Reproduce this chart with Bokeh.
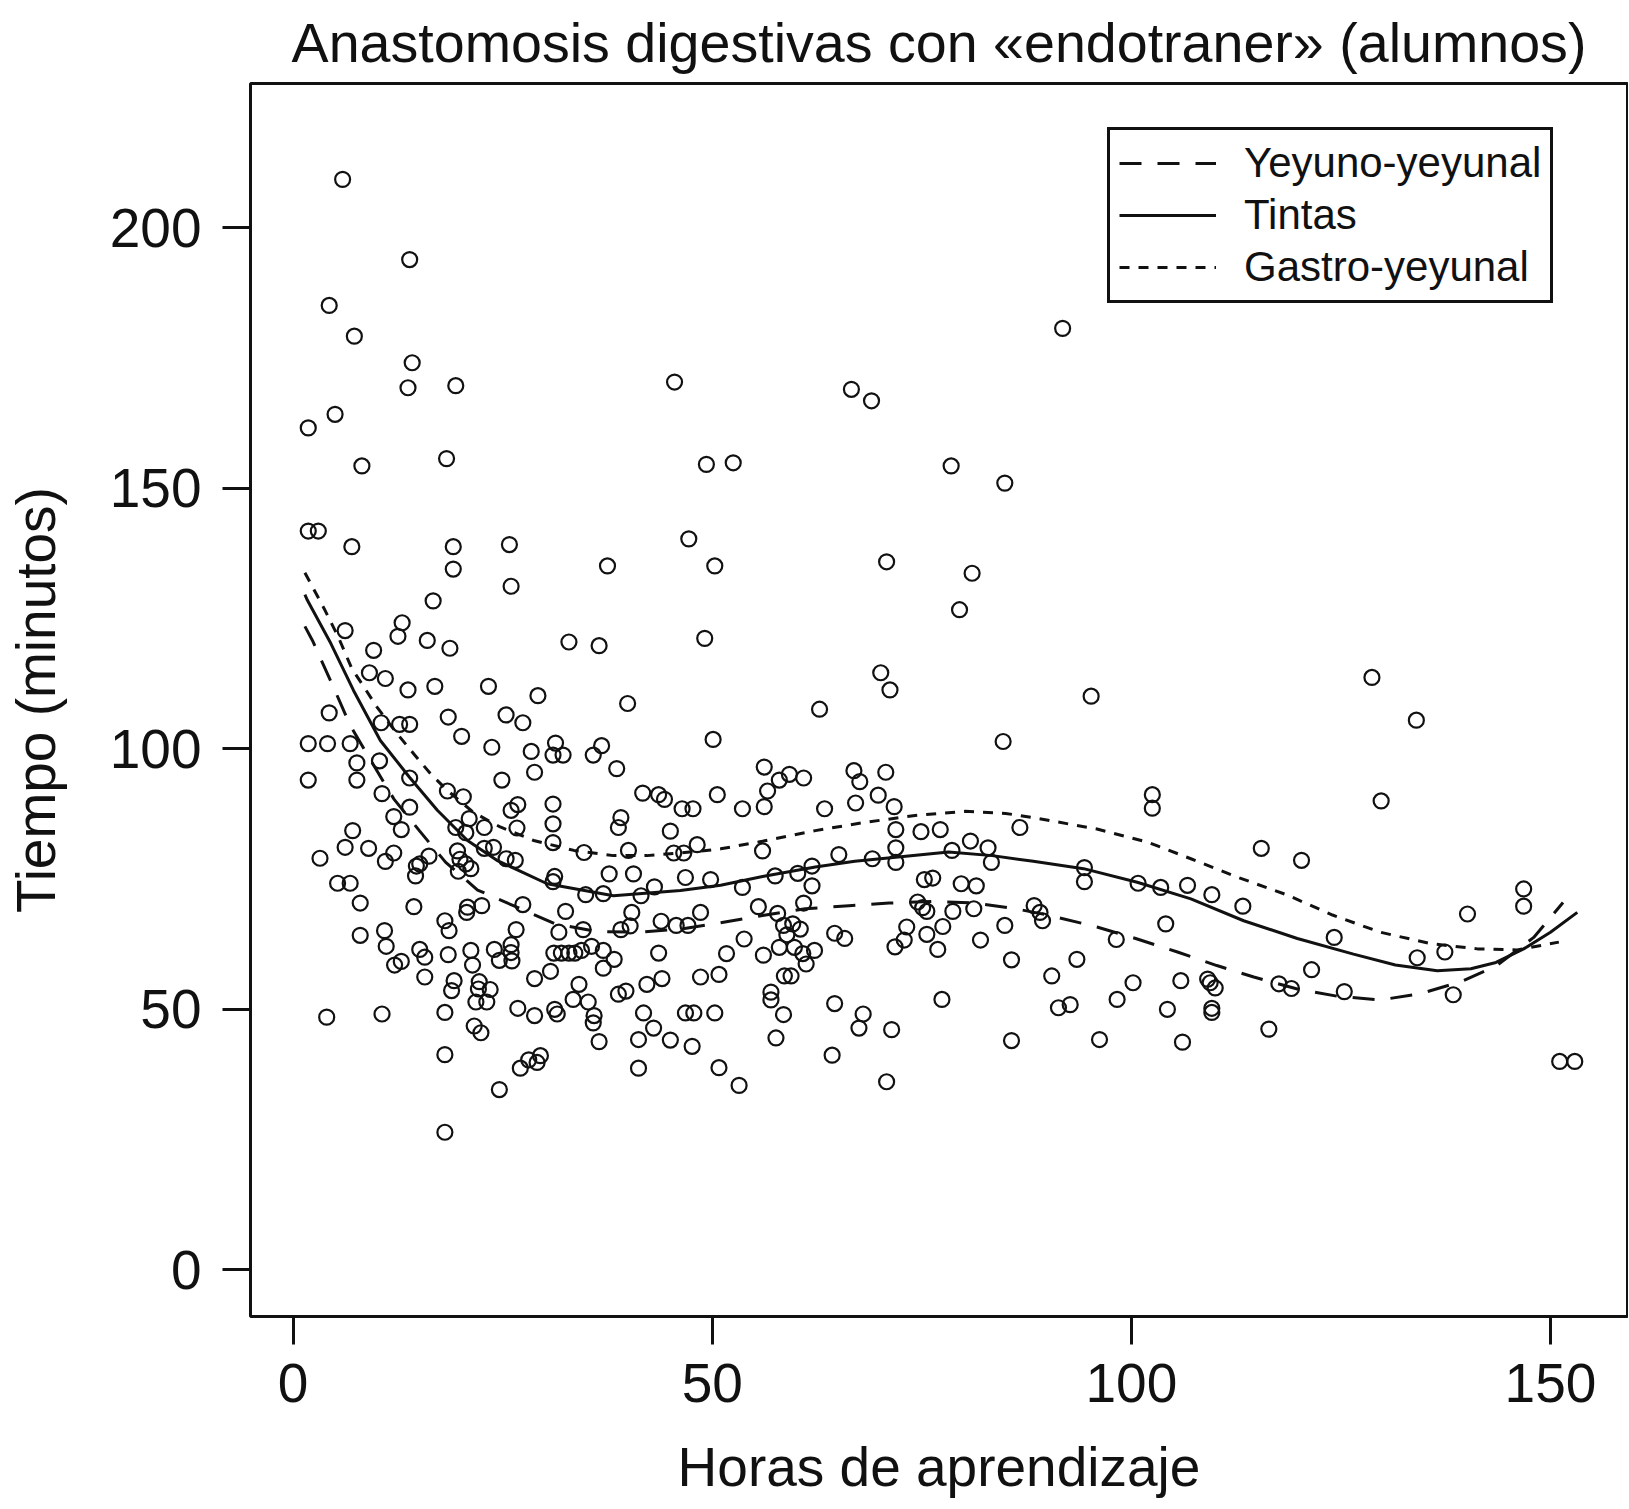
from bokeh.plotting import figure
from bokeh.models import FixedTicker, Legend, LegendItem, Range1d
from bokeh.embed import file_html
from bokeh.resources import INLINE

# ---------------- data ----------------
horas = [
    5.9, 13.9, 4.3, 7.3, 14.2, 13.7, 19.4, 45.5, 5.0, 1.8, 8.2, 18.3, 49.3, 1.8, 3.0, 7.0,
    19.1, 25.8, 47.2, 19.1, 37.5, 50.3, 26.0, 16.7,
    6.2, 13.0, 12.5, 16.0, 18.7, 32.9, 36.5, 49.1, 9.6, 9.1, 11.0, 13.7, 16.9, 23.3, 29.2, 39.9,
    4.3, 10.5, 12.7, 13.9, 18.5, 25.4, 27.4, 20.1, 1.8, 4.1, 6.8, 23.7, 31.3, 31.0, 32.2, 36.8,
    35.8, 50.1, 28.4, 7.6, 10.3, 1.8, 7.6, 13.9, 24.9, 28.8, 38.6, 10.6, 18.4, 20.3, 13.9, 26.8,
    26.0, 31.0, 41.7, 43.6, 44.3, 50.6, 12.0, 21.0, 31.0, 39.1, 38.8, 46.4, 47.7, 7.1, 12.9, 19.4,
    20.6, 22.8, 26.7, 45.0, 31.0, 48.2, 3.2, 6.2, 9.0, 12.0, 11.0, 16.2, 14.7, 15.1, 14.6, 19.6,
    19.9, 20.6, 21.2, 19.7, 22.8, 23.9, 25.4, 26.5, 34.7, 40.0, 45.4, 46.6, 31.2, 31.0, 37.7, 40.6,
    43.1, 46.8, 49.8, 5.3, 6.8,
    8.0, 14.4, 20.7, 20.8, 22.5, 27.4, 32.5, 34.9, 37.0, 41.5, 40.4, 8.0, 10.9, 11.1, 18.1, 18.6,
    26.6, 31.7, 34.6, 39.1, 40.2, 43.9, 45.7, 47.1, 48.6, 12.1, 12.9, 15.1, 15.7, 15.7, 18.5, 21.2,
    21.4, 24.0, 24.6, 26.0, 26.0, 26.1, 19.2, 18.9, 22.2, 22.1, 23.5, 21.8, 23.1, 28.8, 30.7, 31.1,
    32.0, 32.9, 33.6, 34.4, 35.6, 37.0, 38.3, 37.0, 43.6, 44.0, 42.2, 38.8, 39.7, 34.1, 33.4, 35.2,
    35.9, 35.8, 36.5, 48.6, 50.8, 4.0, 10.6, 18.1, 26.8, 28.8, 31.2, 31.5, 21.6, 22.4, 18.1, 41.8,
    43.0, 41.2, 45.0, 46.8, 47.8, 50.3, 47.6, 41.2, 50.8, 27.1, 28.1, 29.1, 29.5, 24.6, 18.1,
    62.8, 84.7, 56.2, 58.0, 59.2, 60.9, 56.6, 56.2, 53.6, 63.4, 66.9, 67.6, 70.7, 67.1, 69.8, 71.7,
    71.9, 74.9, 77.2, 86.7, 56.0, 65.1, 69.1, 71.9, 71.9, 78.6, 80.8, 82.9, 83.3, 53.6, 57.5, 60.2,
    61.9, 61.9, 75.3, 76.3, 79.7, 81.5, 55.5, 57.8, 60.9, 58.5, 59.6, 60.5, 58.9, 53.8, 51.7, 56.1,
    58.0, 59.8, 60.8, 62.2, 61.2, 58.6, 59.4, 57.0, 57.0, 58.5, 57.6, 64.6, 68.0, 67.5, 71.4, 64.3,
    53.2, 70.8, 64.6, 65.8, 73.2, 72.9, 71.8, 74.5, 75.1, 75.6, 78.7, 81.2, 77.5, 75.6, 76.9, 82.0,
    84.9, 85.7, 77.4, 85.7, 88.4,
    95.2, 102.5, 102.5, 115.5, 120.3, 94.4, 94.4, 100.8, 103.5, 106.7, 109.6, 113.3, 124.2, 89.1,
    89.4, 104.1, 98.2, 93.5, 90.5, 100.2, 105.9, 109.1, 109.4, 110.0, 117.6, 119.1, 121.5, 125.4,
    91.3, 92.7, 98.3, 104.3, 109.6, 109.6, 96.2, 106.1, 116.4,
    128.7, 134.0, 129.8, 146.8, 146.8, 140.1, 134.1, 137.4, 138.4, 151.1, 152.9,
    91.8, 66.6, 69.0, 52.5, 78.5, 84.9, 70.8, 81.0, 79.5, 70.1, 71.2,
]
tiempo = [
    209.3, 193.9, 185.1, 179.2, 174.1, 169.3, 169.7, 170.4, 164.2, 161.6, 154.3, 155.7, 154.6, 141.8, 141.8, 138.8,
    138.8, 139.2, 140.3, 134.5, 135.1, 135.1, 131.2, 128.4,
    122.7, 124.2, 121.6, 120.8, 119.3, 120.5, 119.8, 121.2, 118.9, 114.6, 113.5, 111.3, 112.0, 112.0, 110.2, 108.7,
    106.9, 105.0, 104.7, 104.7, 106.1, 106.5, 105.0, 102.4, 101.0, 101.0, 101.0, 100.3, 101.1, 98.8, 98.8, 100.6,
    98.8, 101.8, 99.5, 97.3, 97.7, 94.0, 94.0, 94.4, 94.0, 95.5, 96.2, 91.4, 91.9, 90.8, 88.8, 89.3,
    88.2, 89.4, 91.5, 91.2, 90.3, 91.2, 87.0, 86.6, 85.6, 86.8, 84.9, 88.5, 88.5, 84.3, 84.5, 84.9,
    83.9, 84.9, 84.8, 84.2, 82.0, 81.6, 79.0, 81.1, 80.9, 80.0, 78.4, 79.4, 77.5, 77.9, 75.6, 80.4,
    78.8, 77.9, 77.0, 76.5, 80.9, 81.1, 78.9, 78.6, 80.1, 80.5, 80.0, 80.0, 75.5, 74.5, 76.0, 76.0,
    73.5, 75.3, 74.9, 74.2, 74.2,
    70.4, 69.7, 68.6, 69.6, 69.9, 70.1, 68.8, 72.0, 72.2, 71.8, 68.6, 64.2, 65.1, 62.1, 67.0, 65.1,
    65.3, 64.8, 65.3, 65.3, 66.0, 66.9, 66.1, 66.1, 68.6, 58.5, 59.2, 61.5, 60.0, 56.2, 60.5, 61.3,
    58.5, 61.5, 59.4, 62.4, 60.9, 59.3, 55.5, 53.6, 55.3, 53.9, 53.8, 51.4, 51.4, 55.9, 57.3, 60.8,
    60.8, 60.8, 60.8, 61.3, 62.1, 61.3, 59.6, 57.9, 60.8, 55.9, 54.8, 52.9, 53.5, 54.8, 51.9, 51.4,
    48.8, 47.4, 43.8, 56.2, 56.7, 48.5, 49.1, 49.4, 50.2, 48.8, 50.0, 49.1, 46.8, 45.5, 41.3, 49.3,
    46.4, 44.2, 44.1, 49.3, 49.3, 49.3, 42.9, 38.7, 38.8, 38.7, 40.3, 39.8, 41.1, 34.6, 26.4,
    107.6, 101.4, 96.5, 94.0, 95.1, 94.4, 91.9, 88.9, 88.5, 88.5, 95.8, 93.7, 95.5, 89.6, 91.1, 88.9,
    84.5, 84.1, 84.5, 84.9, 80.4, 79.7, 78.9, 81.0, 78.2, 80.5, 82.3, 81.0, 78.2, 73.4, 75.6, 76.1,
    77.5, 73.7, 74.9, 75.2, 74.1, 73.7, 69.7, 68.4, 70.4, 66.1, 66.4, 65.4, 64.3, 63.5, 60.7, 60.4,
    61.9, 61.9, 60.7, 61.3, 58.7, 56.4, 56.4, 53.3, 51.8, 49.0, 44.5, 51.1, 49.1, 46.4, 46.1, 41.2,
    35.4, 36.1, 64.6, 63.6, 65.8, 63.3, 62.0, 70.6, 69.5, 68.8, 68.8, 69.3, 65.9, 64.4, 61.5, 63.3,
    66.1, 59.5, 51.9, 44.0, 69.9,
    110.1, 91.2, 88.6, 80.9, 78.6, 77.2, 74.5, 74.2, 73.4, 73.8, 72.0, 69.8, 63.8, 68.6,
    67.0, 66.4, 63.4, 59.6, 56.4, 55.1, 55.5, 55.8, 55.1, 54.1, 54.9, 54.0, 57.6, 53.4,
    50.3, 50.9, 51.9, 50.0, 50.2, 49.4, 44.2, 43.7, 46.2,
    113.7, 105.5, 90.0, 73.1, 69.8, 68.3, 59.9, 61.0, 52.8, 40.0, 40.0,
    180.7, 169.0, 166.8, 154.9, 154.3, 151.0, 135.9, 133.7, 126.7, 114.6, 111.3,
]

# fitted curves
tintas_x = [1.4, 1.7, 4.5, 7.2, 10.4, 13.9, 17.2, 20.8, 24.3, 30.3, 38.2, 46.2, 51.0, 56.0, 62.3,
            67.0, 71.9, 78.2, 83.4, 88.3, 94.3, 100.7, 107.1, 113.4, 119.8, 126.5, 131.5, 136.5,
            140.5, 143.5, 146.8, 150.0, 153.2]
tintas_y = [129.6, 128.5, 120.2, 111.2, 101.6, 94.5, 88.2, 82.4, 78.6, 74.1, 71.8, 72.8, 73.8, 75.5,
            77.3, 78.4, 79.2, 80.2, 79.5, 78.4, 77.0, 74.4, 71.2, 67.0, 63.6, 60.6, 58.5, 57.4,
            57.8, 59.0, 61.6, 64.8, 68.6]

yeyuno_x = [1.4, 2.3, 4.9, 6.8, 9.4, 12.0, 15.1, 18.2, 22.0, 26.7, 31.3, 36.3, 41.2, 46.2, 50.5,
            56.0, 61.1, 66.3, 71.1, 76.2, 81.4, 86.2, 90.3, 95.9, 100.7, 105.5, 110.2, 114.6,
            119.8, 124.6, 129.7, 134.5, 139.3, 143.6, 148.0, 151.5]
yeyuno_y = [123.5, 120.8, 111.5, 104.5, 97.4, 90.4, 84.2, 78.2, 72.9, 69.6, 66.4, 64.9, 64.8, 65.4,
            66.5, 68.0, 69.3, 69.9, 70.4, 70.7, 70.4, 69.3, 68.0, 65.8, 63.5, 61.0, 58.4, 56.2,
            53.9, 52.5, 51.8, 53.0, 55.3, 58.4, 63.8, 70.5]

gastro_x = [1.4, 3.7, 5.4, 7.0, 8.6, 10.0, 12.4, 14.4, 16.4, 18.4, 21.5, 24.7, 28.7, 33.5, 38.2,
            42.2, 48.2, 51.0, 55.5, 62.3, 68.3, 74.2, 80.2, 85.0, 88.3, 95.9, 101.9, 107.1, 112.6,
            118.5, 124.0, 129.7, 135.7, 141.3, 146.0, 151.0]
gastro_y = [133.8, 126.9, 121.4, 115.4, 111.5, 108.0, 102.9, 99.0, 95.2, 92.0, 87.8, 85.0, 82.4,
            80.5, 79.5, 79.5, 80.3, 80.8, 82.1, 84.3, 85.9, 87.2, 88.0, 87.6, 86.8, 84.6, 82.1, 78.9,
            75.4, 72.0, 68.1, 64.8, 62.6, 61.6, 61.4, 62.9]

x_ticks = [0, 50, 100, 150]
y_ticks = [0, 50, 100, 150, 200]

titulo = "Anastomosis digestivas con «endotraner» (alumnos)"
label_x = "Horas de aprendizaje"
label_y = "Tiempo (minutos)"
serie_nombres = ["Yeyuno-yeyunal", "Tintas", "Gastro-yeyunal"]

# ---------------- plot ----------------
FONT = "Liberation Sans"
INK = "#111111"

p = figure(frame_width=1377, frame_height=1233,
           min_border_left=250, min_border_right=1, min_border_top=83, min_border_bottom=186,
           x_range=Range1d(-5.09, 159.19), y_range=Range1d(-8.96, 227.7),
           output_backend="svg", toolbar_location=None, title=titulo)

p.background_fill_color = "white"
p.border_fill_color = "white"
p.outline_line_color = INK
p.outline_line_width = 3
p.outline_line_alpha = 1.0
p.xgrid.grid_line_color = None
p.ygrid.grid_line_color = None

p.title.text_font = FONT
p.title.text_font_size = "55.6px"
p.title.text_font_style = "normal"
p.title.text_color = INK
p.title.align = "center"
p.title.standoff = 19

for ax in (p.xaxis[0], p.yaxis[0]):
    ax.axis_line_color = None
    ax.major_tick_out = 28
    ax.major_tick_in = 0
    ax.minor_tick_out = 0
    ax.minor_tick_in = 0
    ax.major_tick_line_width = 3
    ax.major_tick_line_color = INK
    ax.major_label_text_font = FONT
    ax.major_label_text_font_size = "55px"
    ax.major_label_text_color = INK
    ax.axis_label_text_font = FONT
    ax.axis_label_text_font_size = "55px"
    ax.axis_label_text_font_style = "normal"
    ax.axis_label_text_color = INK

p.xaxis.ticker = FixedTicker(ticks=x_ticks)
p.yaxis.ticker = FixedTicker(ticks=y_ticks)
p.xaxis.axis_label = label_x
p.yaxis.axis_label = label_y
p.xaxis.major_label_standoff = 19
p.xaxis.axis_label_standoff = 31
p.yaxis.major_label_standoff = 21
p.yaxis.axis_label_standoff = 40

p.scatter(horas, tiempo, marker="circle", size=15, fill_color=None,
          line_color=INK, line_width=2.2)

r_y = p.line(yeyuno_x, yeyuno_y, line_color=INK, line_width=3, line_dash="22 16")
r_t = p.line(tintas_x, tintas_y, line_color=INK, line_width=3)
r_g = p.line(gastro_x, gastro_y, line_color=INK, line_width=3, line_dash="10 9")

legend = Legend(items=[LegendItem(label=serie_nombres[0], renderers=[r_y]),
                       LegendItem(label=serie_nombres[1], renderers=[r_t]),
                       LegendItem(label=serie_nombres[2], renderers=[r_g])],
                location=(857, 1013))
legend.margin = 0
legend.padding = 9
legend.spacing = 4
legend.glyph_width = 97
legend.glyph_height = 46
legend.label_height = 46
legend.label_standoff = 28
legend.label_text_font = FONT
legend.label_text_font_size = "42px"
legend.label_text_color = INK
legend.border_line_color = INK
legend.border_line_width = 3
legend.border_line_alpha = 1.0
legend.background_fill_color = "white"
legend.background_fill_alpha = 1.0
p.add_layout(legend)

open("out.html", "w").write(file_html(p, INLINE))
